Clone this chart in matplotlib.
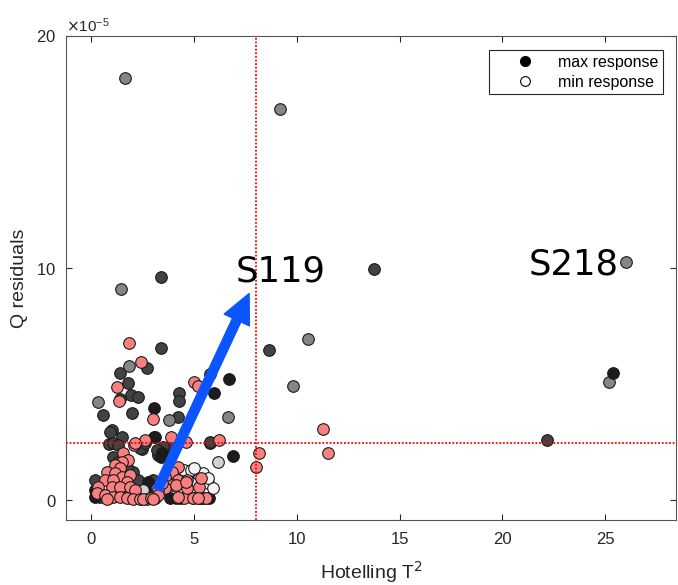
import numpy as np
import matplotlib
matplotlib.use("Agg")
import matplotlib.pyplot as plt
from matplotlib.lines import Line2D
from matplotlib.ticker import ScalarFormatter

plt.rcParams["font.family"] = ["Liberation Sans", "DejaVu Sans"]

# Hotelling T^2 / Q residuals (Q given in units of 1e-5)
black_t2 = [25.37, 3.07, 5.95, 6.68, 6.88, 3.07, 4.93, 3.85, 4.10, 4.34, 5.46, 5.71,
            3.46, 2.78, 2.98, 0.20, 0.20, 3.37, 2.00, 3.50]
black_q = [5.47, 3.97, 4.61, 5.22, 1.90, 2.72, 1.21, 0.09, 0.09, 0.09, 0.09, 0.09,
           2.03, 0.78, 0.43, 0.43, 0.13, 1.85, 0.35, 0.50]

dark_t2 = [13.75, 3.37, 8.63, 22.15, 3.37, 2.73, 1.41, 1.80, 1.95, 2.29, 1.41, 0.59,
           2.00, 4.20, 4.29, 4.29, 5.76, 1.02, 1.51, 0.88, 2.49, 5.76, 3.85, 0.93,
           1.07, 1.32, 3.12, 3.61, 3.27, 5.80, 1.07, 1.32, 2.05, 2.29, 0.20, 2.39,
           2.63, 1.76, 2.88, 3.02, 3.51, 3.22, 1.66, 0.44, 4.93, 1.17, 2.54, 5.22]
dark_q = [9.95, 9.60, 6.47, 2.59, 6.55, 5.69, 5.47, 5.04, 4.53, 4.44, 4.35, 3.66,
          3.75, 3.58, 4.61, 4.27, 5.43, 3.02, 2.72, 2.41, 2.20, 2.46, 2.28, 2.93,
          2.46, 2.37, 2.72, 1.94, 1.94, 2.50, 1.85, 1.64, 1.21, 0.86, 0.86, 2.24,
          2.46, 1.42, 0.78, 0.86, 2.28, 2.16, 0.30, 0.13, 0.09, 0.90, 0.20, 0.09]

gray_t2 = [1.66, 9.17, 1.46, 26.00, 10.54, 9.80, 25.20, 6.63, 1.85, 0.34, 3.76, 2.50, 3.10]
gray_q = [18.20, 16.85, 9.10, 10.26, 6.94, 4.91, 5.09, 3.58, 5.78, 4.22, 3.45, 0.30, 0.60]

light_t2 = [6.15, 3.22, 2.54, 4.20]
light_q = [1.64, 0.52, 0.43, 1.00]

white_t2 = [4.49, 5.17, 5.22, 4.83, 5.66, 4.44, 3.76, 5.90, 5.46, 4.83, 5.66, 5.00]
white_q = [1.29, 1.16, 0.95, 0.73, 0.73, 0.78, 0.86, 0.52, 1.16, 1.29, 0.95, 1.40]

salmon_t2 = [1.85, 2.44, 1.27, 1.37, 2.98, 5.02, 5.17, 2.10, 2.63, 3.90, 4.63, 6.20,
             11.27, 8.15, 11.50, 8.00, 2.15,
             1.56, 1.80, 1.51, 1.17, 1.41, 0.78, 1.17, 1.51, 1.90, 0.68, 1.07, 1.76,
             0.34, 1.02, 1.41, 1.90, 2.15, 0.29, 0.68, 1.07, 1.41, 1.76, 2.05, 2.39,
             2.73, 0.78, 4.20, 3.95, 3.61, 4.24, 3.95, 4.68, 3.61, 3.27, 4.49, 4.93,
             5.32, 4.68, 5.22, 5.32, 3.46, 3.12, 4.20, 5.56, 5.17, 4.10, 4.59, 3.27,
             2.50, 2.90, 3.00]
salmon_q = [6.77, 5.95, 4.87, 4.27, 3.49, 5.09, 4.91, 2.37, 2.59, 2.72, 2.50, 2.59,
            3.06, 2.03, 2.02, 1.42, 2.46,
            2.03, 1.72, 1.64, 1.51, 1.38, 1.21, 1.16, 0.99, 1.08, 0.86, 0.86, 0.78,
            0.56, 0.56, 0.56, 0.56, 0.43, 0.30, 0.22, 0.13, 0.13, 0.09, 0.04, 0.04,
            0.04, 0.04, 1.42, 1.21, 0.99, 0.86, 0.65, 0.86, 0.52, 0.43, 0.09, 0.09,
            0.09, 0.52, 0.56, 0.95, 0.73, 0.09, 0.13, 0.09, 0.09, 0.65, 0.78, 0.22,
            0.05, 0.10, 0.05]

T2_LIMIT = 8.0
Q_LIMIT = 2.45e-5

groups = [
    (dark_t2, dark_q, "#424242"),
    (gray_t2, gray_q, "#858585"),
    (black_t2, black_q, "#1c1c1c"),
    (light_t2, light_q, "#d2d2d2"),
    (white_t2, white_q, "#f4f4f4"),
    (salmon_t2, salmon_q, "#fa8080"),
]

fig = plt.figure(figsize=(6.78, 5.85), dpi=100)
ax = fig.add_axes([66 / 678, 65 / 585, 610 / 678, 484 / 585])

for tx, qy, col in groups:
    ax.scatter(tx, np.array(qy) * 1e-5, s=70, c=col, edgecolors="#1a1a1a",
               linewidths=0.8, zorder=3)

# control limits
ax.axvline(T2_LIMIT, color="#ff0000", linewidth=1.3, linestyle=(0, (1, 1)), zorder=4)
ax.axhline(Q_LIMIT, color="#ff0000", linewidth=1.3, linestyle=(0, (1, 1)), zorder=4)

# arrow toward S119
ax.annotate("", xy=(7.68, 8.9e-5), xytext=(3.22, 0.45e-5),
            arrowprops=dict(arrowstyle="simple,head_length=1.05,head_width=1.0,tail_width=0.33",
                            mutation_scale=20, color="#0a55ff", shrinkA=0, shrinkB=0),
            zorder=5)

ax.text(7.02, 9.4e-5, "S119", fontsize=25.5, family="DejaVu Sans", color="black",
        ha="left", va="baseline", zorder=6)
ax.text(21.3, 9.7e-5, "S218", fontsize=25.5, family="DejaVu Sans", color="black",
        ha="left", va="baseline", zorder=6)

ax.set_xlim(-1.23, 28.45)
ax.set_ylim(-0.86e-5, 20e-5)
ax.set_xticks([0, 5, 10, 15, 20, 25])
ax.set_yticks([0, 10e-5, 20e-5])

fmt = ScalarFormatter(useMathText=True)
fmt.set_powerlimits((-5, -5))
ax.yaxis.set_major_formatter(fmt)
ax.yaxis.get_offset_text().set_fontsize(11)
ax.yaxis.get_offset_text().set_color("#262626")

ax.tick_params(direction="in", length=4, width=0.8, colors="#262626",
               labelsize=12, top=True, right=True)
ax.tick_params(axis="x", pad=9)
ax.tick_params(axis="y", pad=7)
for sp in ax.spines.values():
    sp.set_color("#555555")
    sp.set_linewidth(0.8)

ax.set_xlabel("Hotelling T$^2$", fontsize=14, color="#262626", labelpad=8)
ax.set_ylabel("Q residuals", fontsize=14, color="#262626", labelpad=6)

handles = [
    Line2D([], [], linestyle="none", marker="o", markersize=7,
           markerfacecolor="black", markeredgecolor="black", label="max response"),
    Line2D([], [], linestyle="none", marker="o", markersize=7,
           markerfacecolor="white", markeredgecolor="black", markeredgewidth=0.8,
           label="min response"),
]
leg = ax.legend(handles=handles, loc="upper right", bbox_to_anchor=(0.979, 0.971),
                borderaxespad=0, fontsize=11.5, fancybox=False, framealpha=1,
                edgecolor="#262626", borderpad=0.3, handlelength=3.9,
                handletextpad=0.1, labelspacing=0.3)
leg.get_frame().set_linewidth(0.8)
leg.set_zorder(7)

fig.savefig("out.png", dpi=100, facecolor="white")
